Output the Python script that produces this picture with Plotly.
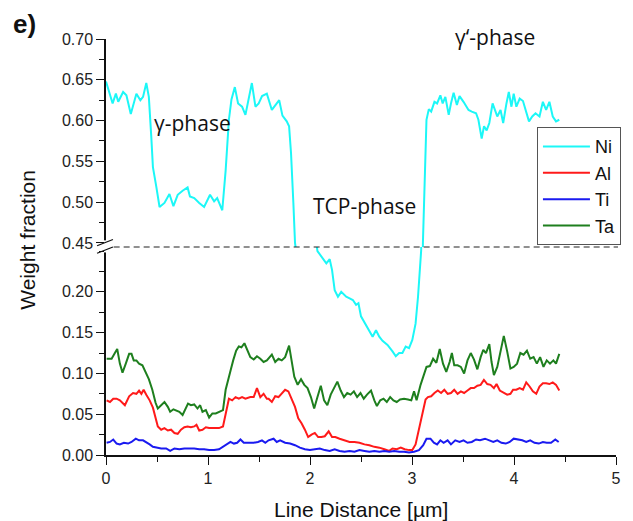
import plotly.graph_objects as go

# ---------------- data ----------------
ni_x = [0.0, 0.065, 0.097, 0.12, 0.168, 0.20, 0.243, 0.298, 0.337, 0.363, 0.395, 0.42, 0.444, 0.46,
        0.493, 0.525, 0.573, 0.622, 0.661, 0.703, 0.751, 0.80, 0.823, 0.865, 0.914, 0.962, 1.02, 1.06,
        1.09, 1.14, 1.173, 1.205, 1.23, 1.263, 1.295, 1.334, 1.367, 1.406, 1.43, 1.465, 1.497, 1.53,
        1.577, 1.626, 1.659, 1.698, 1.73, 1.772, 1.795, 1.814, 1.837, 1.853,
        2.073, 2.128, 2.16, 2.193, 2.216, 2.242, 2.274, 2.306, 2.355, 2.388, 2.42, 2.452, 2.475, 2.50,
        2.54, 2.582, 2.614, 2.647, 2.679, 2.711, 2.76, 2.809, 2.841, 2.874, 2.906, 2.938, 2.971, 3.003,
        3.035, 3.059, 3.078, 3.09,
        3.107, 3.12, 3.142, 3.165, 3.188, 3.22, 3.246, 3.278, 3.301, 3.327, 3.36, 3.382, 3.408, 3.44,
        3.466, 3.505, 3.554, 3.586, 3.628, 3.651, 3.683, 3.706, 3.732, 3.758, 3.79, 3.813, 3.836, 3.868,
        3.894, 3.926, 3.949, 3.975, 3.997, 4.023, 4.056, 4.088, 4.114, 4.147, 4.179, 4.211, 4.25, 4.283,
        4.315, 4.347, 4.38, 4.412, 4.444]
ni_y = [0.648, 0.621, 0.633, 0.623, 0.635, 0.631, 0.608, 0.633, 0.625, 0.629, 0.646, 0.629, 0.580, 0.543,
        0.519, 0.494, 0.499, 0.510, 0.495, 0.509, 0.514, 0.518, 0.507, 0.505, 0.499, 0.494, 0.509, 0.501,
        0.505, 0.490, 0.539, 0.601, 0.626, 0.641, 0.621, 0.617, 0.607, 0.631, 0.646, 0.617, 0.621, 0.630,
        0.633, 0.613, 0.618, 0.625, 0.606, 0.599, 0.593, 0.560, 0.499, 0.450,
        0.250, 0.241, 0.235, 0.240, 0.227, 0.202, 0.194, 0.200, 0.194, 0.192, 0.190, 0.184, 0.186, 0.170,
        0.161, 0.153, 0.145, 0.153, 0.145, 0.140, 0.135, 0.127, 0.121, 0.125, 0.125, 0.133, 0.131, 0.141,
        0.161, 0.194, 0.227, 0.251,
        0.450, 0.519, 0.601, 0.614, 0.611, 0.623, 0.621, 0.631, 0.621, 0.629, 0.607, 0.621, 0.634, 0.619,
        0.630, 0.623, 0.613, 0.611, 0.609, 0.601, 0.578, 0.593, 0.588, 0.597, 0.621, 0.613, 0.605, 0.613,
        0.597, 0.621, 0.635, 0.617, 0.633, 0.617, 0.627, 0.624, 0.613, 0.599, 0.605, 0.609, 0.605, 0.623,
        0.613, 0.623, 0.605, 0.599, 0.601]

al_x = [0.006, 0.039, 0.071, 0.104, 0.136, 0.185, 0.227, 0.265, 0.298, 0.324, 0.347, 0.369, 0.395, 0.428,
        0.46, 0.486, 0.508, 0.541, 0.573, 0.606, 0.638, 0.671, 0.703, 0.735, 0.768, 0.80, 0.833, 0.865,
        0.887, 0.914, 0.946, 0.979, 1.011, 1.06, 1.108, 1.147, 1.173, 1.205, 1.237, 1.27, 1.302, 1.334,
        1.367, 1.415, 1.448, 1.48, 1.513, 1.545, 1.577, 1.594, 1.626, 1.659, 1.691, 1.723, 1.756, 1.788,
        1.82, 1.853, 1.885, 1.917, 1.95, 1.982, 2.015, 2.047, 2.08, 2.112, 2.145, 2.183, 2.216, 2.248,
        2.29, 2.339, 2.388, 2.436, 2.485, 2.534, 2.582, 2.631, 2.68, 2.729, 2.777, 2.809, 2.85, 2.89,
        2.928, 2.971, 3.003, 3.035, 3.068, 3.10, 3.133, 3.156, 3.188, 3.22, 3.253, 3.285, 3.317, 3.35,
        3.382, 3.414, 3.447, 3.479, 3.511, 3.544, 3.576, 3.608, 3.641, 3.673, 3.705, 3.738, 3.77, 3.803,
        3.829, 3.861, 3.90, 3.933, 3.965, 3.991, 4.023, 4.056, 4.088, 4.12, 4.153, 4.185, 4.218, 4.25,
        4.283, 4.315, 4.347, 4.38, 4.412, 4.444]
al_y = [0.067, 0.065, 0.069, 0.069, 0.067, 0.061, 0.072, 0.076, 0.075, 0.079, 0.075, 0.080, 0.074, 0.067,
        0.058, 0.045, 0.035, 0.031, 0.033, 0.030, 0.031, 0.027, 0.026, 0.031, 0.034, 0.035, 0.034, 0.035,
        0.037, 0.030, 0.031, 0.034, 0.033, 0.033, 0.033, 0.035, 0.051, 0.069, 0.067, 0.071, 0.069, 0.071,
        0.069, 0.071, 0.071, 0.082, 0.071, 0.075, 0.069, 0.069, 0.065, 0.072, 0.071, 0.076, 0.080, 0.078,
        0.069, 0.059, 0.045, 0.039, 0.031, 0.022, 0.025, 0.027, 0.022, 0.022, 0.023, 0.029, 0.022, 0.022,
        0.020, 0.018, 0.016, 0.016, 0.015, 0.013, 0.012, 0.010, 0.009, 0.007, 0.005, 0.008, 0.007, 0.009,
        0.007, 0.006, 0.006, 0.013, 0.031, 0.051, 0.068, 0.071, 0.072, 0.076, 0.079, 0.076, 0.080, 0.075,
        0.076, 0.080, 0.075, 0.078, 0.076, 0.079, 0.082, 0.082, 0.085, 0.086, 0.092, 0.087, 0.086, 0.082,
        0.087, 0.079, 0.076, 0.074, 0.075, 0.080, 0.080, 0.082, 0.080, 0.089, 0.084, 0.078, 0.075, 0.084,
        0.088, 0.088, 0.087, 0.089, 0.086, 0.079]

ti_x = [0.006, 0.039, 0.071, 0.104, 0.136, 0.175, 0.217, 0.25, 0.292, 0.324, 0.363, 0.395, 0.428, 0.46,
        0.492, 0.541, 0.59, 0.629, 0.671, 0.719, 0.768, 0.816, 0.865, 0.914, 0.962, 1.011, 1.06, 1.108,
        1.147, 1.188, 1.22, 1.254, 1.286, 1.318, 1.351, 1.40, 1.448, 1.49, 1.529, 1.562, 1.594, 1.643,
        1.674, 1.707, 1.756, 1.805, 1.853, 1.901, 1.95, 1.999, 2.047, 2.096, 2.145, 2.193, 2.242, 2.29,
        2.339, 2.388, 2.436, 2.485, 2.534, 2.582, 2.631, 2.68, 2.729, 2.777, 2.826, 2.874, 2.922, 2.971,
        3.02, 3.068, 3.11, 3.142, 3.181, 3.214, 3.246, 3.278, 3.31, 3.349, 3.382, 3.424, 3.466, 3.505,
        3.544, 3.586, 3.628, 3.667, 3.716, 3.758, 3.797, 3.836, 3.877, 3.919, 3.958, 3.997, 4.04, 4.081,
        4.12, 4.159, 4.201, 4.243, 4.283, 4.321, 4.363, 4.405, 4.438]
ti_y = [0.015, 0.016, 0.019, 0.014, 0.013, 0.015, 0.014, 0.016, 0.020, 0.018, 0.018, 0.016, 0.013, 0.010,
        0.009, 0.008, 0.008, 0.005, 0.008, 0.007, 0.008, 0.008, 0.008, 0.007, 0.007, 0.006, 0.006, 0.007,
        0.010, 0.014, 0.016, 0.014, 0.015, 0.019, 0.015, 0.015, 0.015, 0.016, 0.018, 0.015, 0.018, 0.020,
        0.016, 0.018, 0.015, 0.014, 0.012, 0.009, 0.007, 0.006, 0.007, 0.008, 0.006, 0.005, 0.007, 0.005,
        0.004, 0.005, 0.004, 0.006, 0.005, 0.004, 0.005, 0.004, 0.005, 0.004, 0.005, 0.004, 0.004, 0.003,
        0.004, 0.006, 0.012, 0.020, 0.020, 0.015, 0.013, 0.018, 0.015, 0.018, 0.013, 0.018, 0.016, 0.018,
        0.015, 0.016, 0.019, 0.018, 0.020, 0.018, 0.016, 0.018, 0.015, 0.014, 0.016, 0.020, 0.019, 0.018,
        0.016, 0.018, 0.015, 0.014, 0.016, 0.015, 0.015, 0.019, 0.016]

ta_x = [0.006, 0.055, 0.087, 0.11, 0.136, 0.162, 0.194, 0.227, 0.25, 0.272, 0.298, 0.324, 0.357, 0.389,
        0.42, 0.454, 0.486, 0.508, 0.541, 0.573, 0.606, 0.629, 0.661, 0.693, 0.719, 0.751, 0.777, 0.804,
        0.833, 0.865, 0.897, 0.923, 0.946, 0.979, 1.011, 1.043, 1.076, 1.108, 1.147, 1.173, 1.198, 1.222,
        1.247, 1.276, 1.302, 1.328, 1.357, 1.383, 1.415, 1.448, 1.48, 1.513, 1.545, 1.577, 1.626, 1.659,
        1.691, 1.723, 1.756, 1.795, 1.82, 1.846, 1.879, 1.912, 1.944, 1.976, 2.009, 2.041, 2.073, 2.106,
        2.138, 2.17, 2.203, 2.235, 2.268, 2.301, 2.333, 2.365, 2.398, 2.43, 2.462, 2.495, 2.527, 2.559,
        2.598, 2.631, 2.656, 2.689, 2.721, 2.753, 2.786, 2.818, 2.85, 2.883, 2.922, 2.961, 2.993, 3.02,
        3.045, 3.084, 3.117, 3.142, 3.175, 3.207, 3.239, 3.272, 3.304, 3.336, 3.369, 3.391, 3.414, 3.447,
        3.479, 3.511, 3.544, 3.576, 3.608, 3.641, 3.673, 3.699, 3.725, 3.758, 3.78, 3.803, 3.836, 3.868,
        3.90, 3.933, 3.965, 3.997, 4.03, 4.062, 4.094, 4.127, 4.159, 4.192, 4.224, 4.256, 4.289, 4.321,
        4.353, 4.386, 4.412, 4.444]
ta_y = [0.118, 0.118, 0.125, 0.130, 0.112, 0.101, 0.112, 0.124, 0.124, 0.116, 0.116, 0.112, 0.110, 0.102,
        0.093, 0.080, 0.064, 0.057, 0.061, 0.065, 0.059, 0.053, 0.056, 0.054, 0.053, 0.049, 0.055, 0.063,
        0.061, 0.062, 0.057, 0.061, 0.053, 0.055, 0.046, 0.051, 0.051, 0.053, 0.055, 0.080, 0.094, 0.104,
        0.116, 0.128, 0.133, 0.132, 0.137, 0.129, 0.120, 0.117, 0.121, 0.118, 0.114, 0.116, 0.123, 0.114,
        0.118, 0.116, 0.120, 0.134, 0.114, 0.096, 0.086, 0.093, 0.086, 0.082, 0.071, 0.057, 0.071, 0.085,
        0.067, 0.061, 0.074, 0.082, 0.090, 0.079, 0.071, 0.076, 0.074, 0.078, 0.071, 0.076, 0.069, 0.074,
        0.079, 0.067, 0.060, 0.067, 0.069, 0.065, 0.071, 0.067, 0.065, 0.068, 0.069, 0.068, 0.067, 0.078,
        0.067, 0.086, 0.098, 0.108, 0.109, 0.118, 0.113, 0.130, 0.112, 0.102, 0.114, 0.125, 0.110, 0.110,
        0.108, 0.100, 0.116, 0.125, 0.117, 0.105, 0.120, 0.129, 0.125, 0.136, 0.114, 0.098, 0.108, 0.127,
        0.146, 0.127, 0.106, 0.108, 0.112, 0.125, 0.123, 0.128, 0.118, 0.120, 0.112, 0.120, 0.108, 0.116,
        0.112, 0.116, 0.112, 0.124]

series_names = ["Ni", "Al", "Ti", "Ta"]
series_colors = ["#1CF7F7", "#FF1A1A", "#1A1AF0", "#1E7F1E"]

low_range = [0.0, 0.255]
up_range = [0.445, 0.70]
x_range = [0.0, 5.0]
low_ticks = [0.0, 0.05, 0.10, 0.15, 0.20]
up_ticks = [0.45, 0.50, 0.55, 0.60, 0.65, 0.70]
x_ticks = [0, 1, 2, 3, 4, 5]

# ---------------- figure ----------------
fig = go.Figure()
line_w = 2
# Ni plotted on both halves of the broken axis (each half clips its own part)
fig.add_trace(go.Scatter(x=ni_x, y=ni_y, mode="lines", name=series_names[0],
                         line=dict(color=series_colors[0], width=line_w), xaxis="x", yaxis="y2"))
fig.add_trace(go.Scatter(x=ni_x, y=ni_y, mode="lines", name=series_names[0], showlegend=False,
                         line=dict(color=series_colors[0], width=line_w), xaxis="x", yaxis="y"))
fig.add_trace(go.Scatter(x=al_x, y=al_y, mode="lines", name=series_names[1],
                         line=dict(color=series_colors[1], width=line_w), xaxis="x", yaxis="y"))
fig.add_trace(go.Scatter(x=ti_x, y=ti_y, mode="lines", name=series_names[2],
                         line=dict(color=series_colors[2], width=line_w), xaxis="x", yaxis="y"))
fig.add_trace(go.Scatter(x=ta_x, y=ta_y, mode="lines", name=series_names[3],
                         line=dict(color=series_colors[3], width=line_w), xaxis="x", yaxis="y"))

tick_font = dict(family="Liberation Sans, Arial, sans-serif", size=16, color="#222")
axis_common = dict(showline=True, linecolor="#111", linewidth=1.5, ticks="outside", ticklen=8,
                   tickwidth=1.2, tickcolor="#111", showgrid=False, zeroline=False,
                   tickfont=tick_font)


def minor(step):
    return dict(ticks="outside", ticklen=5, tickwidth=1.2, tickcolor="#111", dtick=step, tick0=0, showgrid=False)


# The page body adds an 8px offset, so the figure is 8px smaller and margins shifted accordingly.
fig.update_layout(
    width=625, height=513,
    margin=dict(l=98, r=12, t=31, b=66),
    paper_bgcolor="white", plot_bgcolor="white",
    showlegend=True,
    xaxis=dict(range=x_range, tickvals=x_ticks, anchor="y", minor=minor(0.5), **axis_common),
    yaxis=dict(domain=[0, 0.5], range=low_range, tickvals=low_ticks, tickformat=".2f", anchor="x",
               minor=minor(0.025), **axis_common),
    yaxis2=dict(domain=[0.5, 1.0], range=up_range, tickvals=up_ticks, tickformat=".2f", anchor="x",
                minor=minor(0.025), **axis_common),
    legend=dict(x=1.0097, y=0.788, xanchor="right", yanchor="top",
                bgcolor="white", bordercolor="#555", borderwidth=1,
                font=dict(family="Liberation Sans, Arial, sans-serif", size=18, color="#111"),
                itemwidth=47, tracegroupgap=0),
)

# break marker: dashed line and double slash on the y axis
fig.add_shape(type="line", xref="paper", yref="paper", x0=0.015, x1=1.004, y0=0.5, y1=0.5,
              line=dict(color="#222", width=1.2, dash="6px,4px"))
fig.add_shape(type="line", xref="paper", yref="paper", x0=0.0, x1=0.0, y0=0.487, y1=0.516,
              line=dict(color="white", width=4))
fig.add_shape(type="line", xref="paper", yref="paper", x0=-0.0175, x1=0.0136, y0=0.503, y1=0.518,
              line=dict(color="#111", width=1.3))
fig.add_shape(type="line", xref="paper", yref="paper", x0=-0.0175, x1=0.0136, y0=0.485, y1=0.500,
              line=dict(color="#111", width=1.3))

ann_font = dict(family="Open Sans, sans-serif", size=21, color="#111")
fig.add_annotation(text="γ-phase", xref="paper", yref="paper", x=(193.5 - 106) / 515, y=(455 - 123) / 416,
                   showarrow=False, font=ann_font, xanchor="center", yanchor="middle")
fig.add_annotation(text="TCP-phase", xref="paper", yref="paper", x=(366.7 - 106) / 515, y=(455 - 206.5) / 416,
                   showarrow=False, font=ann_font, xanchor="center", yanchor="middle")
fig.add_annotation(text="γ‘-phase", xref="paper", yref="paper", x=(498.7 - 106) / 515, y=(455 - 37) / 416,
                   showarrow=False, font=ann_font, xanchor="center", yanchor="middle")
fig.add_annotation(text="<b>e)</b>", xref="paper", yref="paper", x=(24 - 106) / 515, y=(455 - 24) / 416,
                   showarrow=False, font=dict(family="Liberation Sans, Arial, sans-serif", size=26, color="#111"),
                   xanchor="center", yanchor="middle")
fig.add_annotation(text="Weight fraction", xref="paper", yref="paper", x=(27 - 106) / 515, y=(455 - 240) / 416,
                   showarrow=False, textangle=-90,
                   font=dict(family="Liberation Sans, Arial, sans-serif", size=21, color="#111"),
                   xanchor="center", yanchor="middle")
fig.add_annotation(text="Line Distance [µm]", xref="paper", yref="paper", x=(364 - 106) / 515, y=(455 - 509) / 416,
                   showarrow=False,
                   font=dict(family="Liberation Sans, Arial, sans-serif", size=21, color="#111"),
                   xanchor="center", yanchor="middle")

fig.write_html("out.html")
